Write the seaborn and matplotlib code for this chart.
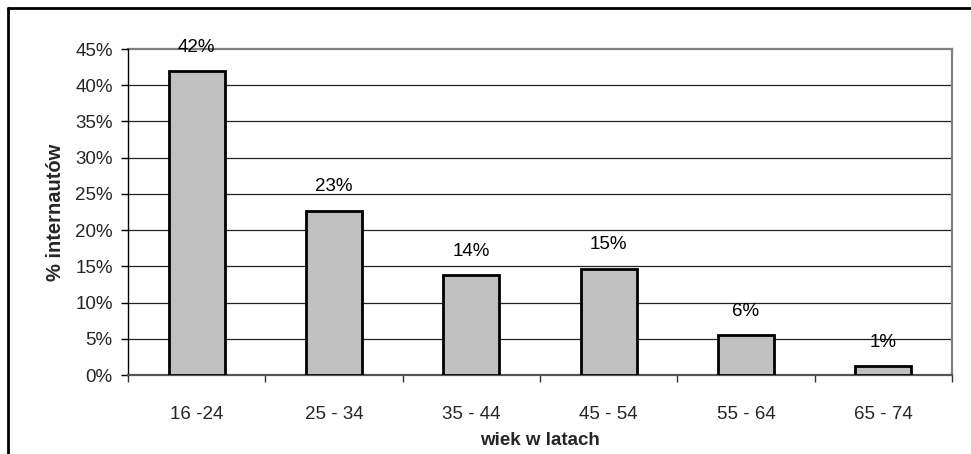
import matplotlib
matplotlib.use("Agg")
import matplotlib.pyplot as plt
from matplotlib.lines import Line2D
from matplotlib.ticker import FixedLocator, PercentFormatter
import numpy as np
import pandas as pd
import seaborn as sns

# Share of internet users by age group (%)
age_groups = ["16 -24", "25 - 34", "35 - 44", "45 - 54", "55 - 64", "65 - 74"]
share_pct = [42.0, 22.7, 13.8, 14.7, 5.5, 1.2]
y_ticks = [0, 5, 10, 15, 20, 25, 30, 35, 40, 45]

x_title = "wiek w latach"
y_title = "% internautów"

sns.set_theme(style="white")
plt.rcParams["font.family"] = ["Liberation Sans", "DejaVu Sans"]

df = pd.DataFrame({"grupa": age_groups, "udzial": share_pct})

fig = plt.figure(figsize=(9.71, 4.54), dpi=100)
fig.patch.set_facecolor("white")
ax = fig.add_axes([128 / 971, 79 / 454, 824 / 971, 326 / 454])

sns.barplot(data=df, x="grupa", y="udzial", color="#C0C0C0",
            edgecolor="black", linewidth=2.0, width=0.41,
            saturation=1, ax=ax, zorder=3)

ax.set_ylim(0, 45)
ax.set_xlim(-0.5, len(age_groups) - 0.5)
ax.yaxis.set_major_locator(FixedLocator(y_ticks))
ax.yaxis.set_major_formatter(PercentFormatter(decimals=0))

# horizontal gridlines
for v in y_ticks[1:-1]:
    ax.axhline(v, color="#222222", linewidth=0.9, zorder=1)

# spines
for side in ("top", "right", "bottom"):
    ax.spines[side].set_color("#808080")
    ax.spines[side].set_linewidth(1.6)
ax.spines["bottom"].set_color("#555555")
ax.spines["left"].set_color("black")
ax.spines["left"].set_linewidth(1.0)
ax.spines["top"].set_zorder(0)

# ticks: y ticks outward; x ticks at category boundaries
ax.tick_params(axis="y", which="major", direction="out", length=5, width=1,
               color="black", pad=6, labelsize=13.5, left=True)
ax.tick_params(axis="x", which="major", length=0, pad=22, labelsize=13.5,
               bottom=True)
ax.set_xticks(np.arange(-0.5, len(age_groups)), minor=True)
ax.tick_params(axis="x", which="minor", direction="out", length=5, width=1,
               color="#333333", bottom=True)

# value labels above each bar
for i, v in enumerate(share_pct):
    ax.annotate(f"{v:.0f}%", xy=(i, v), xytext=(0, 17), textcoords="offset points",
                ha="center", va="center", fontsize=13.5, color="black", zorder=4)

ax.set_xlabel(x_title, fontsize=13.5, fontweight="bold")
ax.set_ylabel(y_title, fontsize=14.5, fontweight="bold")
ax.xaxis.set_label_coords(0.5, -0.175)
ax.yaxis.set_label_coords(-0.0765, 0.5)

# outer chart frame (top and left edges)
fig.add_artist(Line2D([8 / 971, 1.0], [1 - 8 / 454, 1 - 8 / 454],
                      transform=fig.transFigure, color="black", linewidth=2.0))
fig.add_artist(Line2D([8 / 971, 8 / 971], [0.0, 1 - 8 / 454],
                      transform=fig.transFigure, color="black", linewidth=2.0))

fig.savefig("out.png", dpi=100, facecolor="white")
